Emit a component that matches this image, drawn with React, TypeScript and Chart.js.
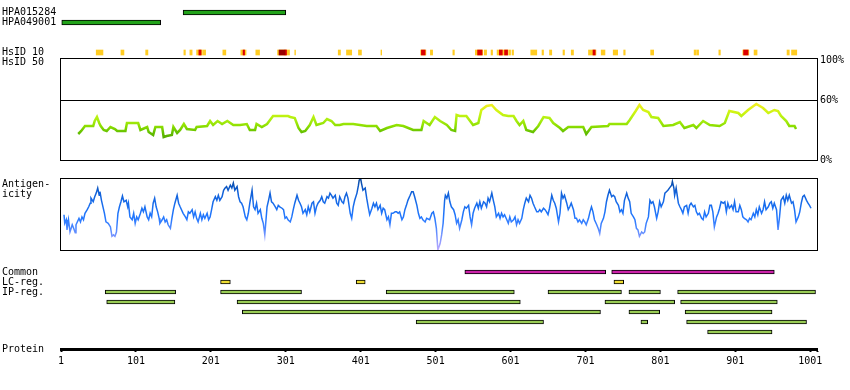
import React, { useEffect, useRef } from 'react';
import { Chart, registerables } from 'chart.js';

Chart.register(...registerables);

const FONT_FAMILY = 'DejaVu Sans Mono';

// residue axis
const RES_MIN = 1;
const RES_MAX = 1010;
const RES_TICKS = [1, 101, 201, 301, 401, 501, 601, 701, 801, 901, 1001, 1010];

// top tracks
const TOP_ROW_VALUES = [0, 1, 4, 5];
const TOP_ROW_LABELS = ['HPA015284', 'HPA049001', 'HsID 10', 'HsID 50'];
const HPA015284 = [[164, 301]];
const HPA049001 = [[2, 134]];
const HSID_YELLOW = [[48, 57], [81, 85], [114, 117], [165, 167], [173, 176], [182, 189], [190, 194], [217, 221], [241, 248], [261, 266], [290, 306], [313, 314], [371, 374], [382, 389], [398, 402], [428, 429], [481, 488], [494, 497], [524, 526], [554, 564], [566, 569], [575, 577], [583, 598], [599, 601], [603, 605], [628, 636], [643, 645], [653, 656], [671, 673], [682, 685], [705, 715], [722, 727], [738, 744], [752, 754], [788, 792], [846, 849], [850, 852], [879, 881], [911, 919], [926, 930], [970, 973], [976, 983]];
const HSID_RED = [[185, 188], [244, 246], [300, 302], [482, 487], [557, 563], [586, 590], [593, 597], [711, 714], [912, 918]];
const HSID_DARKRED = [[292, 300]];

// identity (HsID 50) percent
const IDENTITY_TICKS = [0, 60, 100];
const IDENTITY = [[24, 26], [28, 29], [33, 34], [44, 34], [46, 39], [49, 43], [52, 37], [54, 34], [58, 30], [62, 29], [67, 33], [73, 31], [76, 29], [87, 29], [89, 37], [104, 37], [107, 30], [116, 33], [118, 28], [124, 25], [127, 33], [136, 33], [138, 23], [142, 24], [149, 25], [151, 33], [156, 27], [160, 30], [165, 36], [169, 31], [180, 30], [182, 33], [196, 34], [200, 39], [204, 35], [210, 39], [216, 36], [223, 39], [231, 35], [240, 35], [249, 36], [253, 30], [260, 30], [262, 36], [269, 33], [276, 36], [284, 44], [304, 44], [307, 43], [313, 42], [318, 32], [322, 28], [327, 29], [333, 35], [338, 43], [342, 35], [351, 37], [356, 41], [362, 39], [367, 35], [373, 35], [378, 36], [391, 36], [409, 34], [422, 34], [427, 29], [436, 32], [449, 35], [458, 34], [471, 30], [482, 30], [485, 39], [493, 35], [500, 43], [507, 39], [516, 35], [522, 30], [527, 29], [529, 45], [533, 44], [542, 44], [551, 35], [558, 37], [562, 50], [569, 54], [576, 55], [582, 50], [591, 45], [598, 44], [605, 44], [609, 39], [613, 35], [618, 39], [622, 30], [631, 28], [638, 34], [645, 43], [653, 42], [658, 37], [667, 32], [671, 29], [678, 33], [698, 33], [702, 26], [709, 33], [731, 34], [733, 36], [756, 36], [760, 40], [768, 49], [773, 55], [778, 50], [785, 48], [789, 43], [798, 42], [805, 34], [818, 35], [827, 38], [833, 32], [845, 35], [849, 32], [858, 39], [867, 35], [880, 34], [887, 37], [893, 49], [905, 47], [909, 44], [918, 50], [929, 56], [938, 52], [945, 47], [953, 50], [958, 49], [962, 44], [969, 39], [973, 34], [980, 34], [982, 31]];

// antigenicity (relative scale 0..100)
const ANTIGEN_LABEL = ['Antigen-', 'icity'];
const ANTIGENICITY = [[5, 49], [6, 37], [8, 42], [9, 28], [11, 42], [13, 25], [16, 35], [18, 30], [20, 24], [21, 35], [25, 44], [27, 39], [29, 46], [31, 42], [33, 51], [36, 56], [38, 60], [40, 65], [41, 72], [44, 67], [46, 74], [48, 79], [50, 86], [52, 76], [53, 81], [55, 69], [57, 60], [59, 51], [61, 39], [64, 37], [67, 32], [69, 19], [71, 21], [73, 19], [75, 25], [77, 51], [79, 60], [81, 67], [83, 75], [85, 67], [88, 69], [90, 60], [91, 65], [93, 46], [96, 42], [98, 51], [100, 37], [102, 46], [104, 42], [107, 51], [109, 58], [111, 53], [113, 60], [116, 46], [118, 42], [120, 51], [122, 46], [124, 65], [126, 72], [128, 60], [130, 53], [132, 44], [133, 37], [136, 42], [138, 46], [140, 39], [142, 42], [144, 35], [147, 30], [149, 44], [151, 56], [153, 65], [156, 76], [158, 65], [160, 60], [164, 51], [167, 46], [169, 42], [171, 53], [173, 51], [176, 56], [178, 46], [180, 53], [182, 44], [184, 39], [187, 51], [189, 42], [191, 49], [193, 44], [196, 51], [198, 42], [200, 46], [202, 56], [204, 67], [207, 74], [209, 69], [211, 76], [213, 69], [216, 74], [218, 83], [220, 86], [222, 88], [224, 83], [227, 90], [229, 86], [231, 93], [233, 83], [236, 88], [238, 74], [240, 67], [242, 65], [244, 60], [247, 46], [249, 42], [251, 51], [253, 65], [256, 83], [258, 60], [260, 56], [262, 65], [264, 51], [267, 56], [269, 44], [271, 37], [273, 21], [276, 60], [278, 69], [280, 79], [282, 67], [284, 65], [287, 60], [289, 56], [291, 62], [293, 60], [296, 58], [298, 56], [300, 44], [302, 46], [304, 42], [307, 39], [309, 46], [311, 56], [313, 65], [316, 76], [318, 69], [320, 65], [322, 60], [324, 51], [327, 56], [329, 49], [331, 60], [333, 53], [336, 65], [338, 67], [340, 51], [342, 60], [344, 65], [347, 69], [349, 74], [351, 67], [353, 65], [356, 74], [358, 72], [360, 79], [362, 76], [364, 72], [367, 76], [369, 65], [371, 62], [373, 74], [376, 67], [378, 65], [380, 74], [382, 79], [384, 72], [387, 51], [389, 44], [391, 60], [393, 69], [396, 79], [398, 90], [399, 97], [401, 99], [402, 93], [404, 83], [407, 86], [409, 72], [411, 60], [413, 49], [416, 58], [418, 65], [420, 60], [422, 65], [424, 56], [427, 62], [429, 51], [431, 58], [433, 56], [436, 42], [438, 46], [440, 35], [442, 51], [444, 51], [447, 53], [449, 53], [451, 51], [453, 53], [456, 42], [458, 46], [460, 56], [462, 62], [464, 69], [467, 76], [469, 81], [471, 81], [473, 74], [476, 62], [478, 51], [480, 44], [482, 46], [484, 42], [487, 39], [489, 44], [493, 42], [496, 51], [498, 53], [500, 44], [502, 30], [504, 0], [507, 9], [509, 21], [511, 37], [513, 69], [514, 76], [516, 72], [518, 79], [520, 67], [522, 60], [525, 56], [527, 49], [529, 37], [531, 42], [533, 30], [536, 42], [538, 53], [540, 60], [542, 58], [545, 62], [547, 46], [549, 35], [551, 51], [553, 58], [556, 65], [558, 58], [560, 67], [562, 58], [565, 67], [567, 65], [569, 60], [571, 72], [573, 67], [576, 79], [578, 69], [580, 60], [582, 46], [585, 51], [587, 44], [589, 51], [591, 46], [593, 49], [596, 42], [598, 37], [600, 46], [602, 39], [605, 42], [607, 46], [609, 35], [611, 42], [613, 37], [616, 44], [618, 56], [620, 65], [622, 72], [625, 67], [627, 76], [629, 72], [631, 65], [633, 60], [636, 53], [638, 53], [640, 56], [642, 53], [645, 58], [647, 56], [649, 53], [651, 49], [653, 58], [656, 76], [658, 69], [660, 65], [662, 58], [665, 39], [667, 51], [669, 79], [671, 72], [673, 76], [676, 65], [678, 56], [680, 60], [682, 65], [685, 56], [687, 44], [689, 44], [691, 39], [693, 42], [696, 37], [698, 42], [700, 39], [702, 35], [705, 44], [707, 53], [709, 60], [711, 53], [713, 42], [716, 35], [718, 30], [720, 23], [722, 37], [725, 44], [727, 53], [729, 67], [731, 76], [733, 83], [736, 74], [738, 76], [740, 74], [742, 67], [745, 62], [747, 53], [749, 56], [751, 51], [753, 69], [756, 79], [758, 72], [760, 67], [762, 51], [765, 46], [767, 42], [769, 30], [771, 28], [773, 19], [776, 25], [778, 23], [780, 25], [782, 37], [785, 46], [787, 69], [789, 65], [791, 67], [793, 60], [796, 44], [798, 53], [800, 67], [802, 60], [805, 67], [807, 79], [809, 81], [811, 83], [813, 86], [816, 90], [817, 95], [819, 86], [820, 76], [822, 86], [825, 65], [827, 60], [829, 56], [831, 51], [833, 60], [836, 62], [838, 51], [840, 62], [842, 65], [845, 60], [847, 62], [849, 53], [851, 49], [853, 51], [856, 44], [858, 42], [860, 53], [862, 46], [865, 51], [867, 62], [869, 62], [871, 53], [873, 32], [876, 46], [878, 51], [880, 58], [882, 67], [885, 65], [887, 67], [889, 53], [891, 65], [893, 58], [896, 62], [898, 56], [900, 67], [902, 53], [905, 53], [907, 62], [909, 56], [911, 46], [913, 44], [916, 42], [918, 39], [920, 44], [922, 42], [925, 51], [927, 46], [929, 56], [931, 49], [933, 60], [936, 51], [938, 56], [940, 67], [942, 56], [945, 60], [947, 65], [949, 67], [951, 58], [953, 65], [956, 56], [958, 28], [960, 46], [962, 69], [965, 74], [967, 65], [969, 76], [971, 69], [973, 76], [976, 65], [978, 67], [980, 56], [982, 39], [985, 46], [987, 53], [989, 65], [991, 74], [993, 76], [996, 69], [998, 65], [1000, 62], [1002, 58]];

// bottom tracks
const BOTTOM_ROW_VALUES = [0, 1, 2];
const BOTTOM_ROW_LABELS = ['Common', 'LC-reg.', 'IP-reg.'];
const AXIS_LABEL = 'Protein';
const COMMON = [[540, 728], [736, 953]];
const LC_REG = [[214, 227], [395, 407], [739, 752]];
const IP_REG = [
  [[60, 154], [214, 322], [435, 606], [651, 749], [759, 801], [824, 1008]],
  [[62, 153], [236, 614], [727, 820], [828, 957]],
  [[243, 721], [759, 800], [834, 950]],
  [[475, 645], [775, 784], [836, 996]],
  [[864, 950]],
];

const IDENTITY_COLORS = [[0, '#449900'], [22, '#55aa00'], [28, '#66c200'], [34, '#8ee000'], [40, '#aaee11'], [47, '#ccf511'], [55, '#eeee22'], [100, '#ffee22']];
const ANTIGEN_COLORS = [[0, '#bbaaff'], [15, '#8899ff'], [30, '#4d88ff'], [45, '#2277ff'], [60, '#1a6ff0'], [80, '#1060d8'], [100, '#08479c']];

const font = { family: FONT_FAMILY, size: 10 };

const segs = (list, row) => list.map(([s, e]) => ({ x: [s, e], y: row }));

const gradient = (stops) => (c) => {
  const chart = c.chart;
  const { chartArea, scales } = chart;
  if (!chartArea) return stops[0][1];
  const y = scales.y;
  const g = chart.ctx.createLinearGradient(0, y.getPixelForValue(0), 0, y.getPixelForValue(100));
  stops.forEach(([v, col]) => g.addColorStop(v / 100, col));
  return g;
};

const framePlugin = {
  id: 'frame',
  afterDatasetsDraw(chart) {
    const { ctx, chartArea } = chart;
    const { left, top, right, bottom } = chartArea;
    ctx.save();
    ctx.strokeStyle = '#000';
    ctx.lineWidth = 1;
    ctx.strokeRect(left - 0.5, top + 0.5, right - left + 1, bottom - top);
    ctx.restore();
  },
};

const antigenLabelPlugin = {
  id: 'antigenLabel',
  afterDraw(chart) {
    const { ctx, chartArea } = chart;
    ctx.save();
    ctx.font = `10px ${FONT_FAMILY}`;
    ctx.fillStyle = '#000';
    ctx.textBaseline = 'middle';
    ctx.textAlign = 'left';
    ANTIGEN_LABEL.forEach((t, i) => ctx.fillText(t, 2, chartArea.top + 6 + i * 10));
    ctx.restore();
  },
};

const baseOptions = (padding) => ({
  responsive: false,
  animation: false,
  events: [],
  layout: { padding },
  plugins: { legend: { display: false }, tooltip: { enabled: false } },
});

const hiddenX = { type: 'linear', min: RES_MIN, max: RES_MAX, display: false, offset: false };

const rowAxis = (values, labels, min, max) => ({
  type: 'linear',
  min,
  max,
  reverse: true,
  offset: false,
  position: 'left',
  grid: { display: false, offset: false },
  border: { display: false },
  afterBuildTicks: (s) => {
    s.ticks = values.map((v) => ({ value: v }));
  },
  afterFit: (s) => {
    s.width = 59;
    s.paddingTop = 0;
    s.paddingBottom = 0;
  },
  ticks: {
    autoSkip: false,
    crossAlign: 'far',
    color: '#000',
    font,
    callback: (v, i) => labels[i],
  },
});

const barStyle = (color, border) => ({
  backgroundColor: color,
  borderColor: '#000',
  borderWidth: border ? 1 : 0,
  borderSkipped: false,
  grouped: false,
});

function topConfig() {
  return {
    type: 'bar',
    data: {
      datasets: [
        { data: segs(HSID_DARKRED, 4), ...barStyle('#990000', false), barThickness: 5 },
        { data: segs(HSID_RED, 4), ...barStyle('#dd0000', false), barThickness: 5 },
        { data: segs(HSID_YELLOW, 4), ...barStyle('#ffcc22', false), barThickness: 5 },
        { data: [...segs(HPA015284, 0), ...segs(HPA049001, 1)], ...barStyle('#22a31a', true), barThickness: 5 },
      ],
    },
    options: {
      ...baseOptions({ left: 2, right: 33, top: 0, bottom: 320 }),
      indexAxis: 'y',
      scales: {
        x: hiddenX,
        y: rowAxis(TOP_ROW_VALUES, TOP_ROW_LABELS, -1.25, 5.75),
      },
    },
  };
}

function identityConfig() {
  return {
    type: 'line',
    data: {
      datasets: [
        {
          data: IDENTITY.map(([x, y]) => ({ x, y })),
          borderColor: gradient(IDENTITY_COLORS),
          borderWidth: 2.5,
          pointRadius: 0,
          tension: 0,
          fill: false,
        },
      ],
    },
    options: {
      ...baseOptions({ left: 61, right: 0, top: 58, bottom: 230 }),
      scales: {
        x: hiddenX,
        y: {
          type: 'linear',
          min: 0,
          max: 102,
          position: 'right',
          border: { display: false },
          grid: {
            drawTicks: false,
            color: (c) => (c.tick && c.tick.value === 60 ? '#000' : 'rgba(0,0,0,0)'),
            lineWidth: 1,
          },
          afterBuildTicks: (s) => {
            s.ticks = IDENTITY_TICKS.map((v) => ({ value: v }));
          },
          afterFit: (s) => {
            s.width = 33;
            s.paddingTop = 0;
            s.paddingBottom = 0;
          },
          ticks: {
            autoSkip: false,
            padding: 3,
            color: '#000',
            font,
            callback: (v) => `${v}%`,
          },
        },
      },
    },
    plugins: [framePlugin],
  };
}

function antigenConfig() {
  return {
    type: 'line',
    data: {
      datasets: [
        {
          data: ANTIGENICITY.map(([x, y]) => ({ x, y })),
          borderColor: gradient(ANTIGEN_COLORS),
          borderWidth: 1.5,
          pointRadius: 0,
          tension: 0,
          fill: false,
        },
      ],
    },
    options: {
      ...baseOptions({ left: 61, right: 33, top: 178, bottom: 140 }),
      scales: {
        x: hiddenX,
        y: { type: 'linear', min: 0, max: 100, display: false },
      },
    },
    plugins: [framePlugin, antigenLabelPlugin],
  };
}

function bottomConfig() {
  const yMax = 7.7;
  const ipData = IP_REG.flatMap((row, i) => segs(row, 2 + i));
  return {
    type: 'bar',
    data: {
      datasets: [
        { data: segs(COMMON, 0), ...barStyle('#cc22aa', true), barThickness: 4 },
        { data: segs(LC_REG, 1), ...barStyle('#eedd33', true), barThickness: 4 },
        { data: ipData, ...barStyle('#99cc55', true), barThickness: 4 },
      ],
    },
    options: {
      ...baseOptions({ left: 2, right: 33, top: 262, bottom: 0 }),
      indexAxis: 'y',
      scales: {
        x: {
          type: 'linear',
          min: RES_MIN,
          max: RES_MAX,
          offset: false,
          position: 'bottom',
          afterBuildTicks: (s) => {
            s.ticks = RES_TICKS.map((v) => ({ value: v }));
          },
          afterFit: (s) => {
            s.height = 41;
            s.paddingLeft = 0;
            s.paddingRight = 0;
          },
          grid: { drawOnChartArea: false, drawTicks: true, tickLength: 3, tickWidth: 2, tickColor: '#000' },
          border: { display: true, width: 3, color: '#000' },
          ticks: {
            autoSkip: false,
            maxRotation: 0,
            padding: 3,
            color: '#000',
            font,
            callback: (v) => (v === RES_MAX ? '' : String(v)),
          },
        },
        y: rowAxis(
          [...BOTTOM_ROW_VALUES, yMax],
          [...BOTTOM_ROW_LABELS, AXIS_LABEL],
          -1,
          yMax
        ),
      },
    },
  };
}

const canvasStyle: React.CSSProperties = { position: 'absolute', left: 0, top: 0 };

export default function App() {
  const r1 = useRef<HTMLCanvasElement>(null);
  const r2 = useRef<HTMLCanvasElement>(null);
  const r3 = useRef<HTMLCanvasElement>(null);
  const r4 = useRef<HTMLCanvasElement>(null);

  useEffect(() => {
    const charts: Chart[] = [];
    const pairs: [React.RefObject<HTMLCanvasElement>, () => any][] = [
      [r1, topConfig],
      [r2, identityConfig],
      [r3, antigenConfig],
      [r4, bottomConfig],
    ];
    pairs.forEach(([ref, cfg]) => {
      if (ref.current) charts.push(new Chart(ref.current, cfg()));
    });
    return () => charts.forEach((c) => c.destroy());
  }, []);

  return (
    <div style={{ position: 'absolute', left: 0, top: 0, width: 850, height: 390, background: '#fff' }}>
      <canvas ref={r1} width={850} height={390} style={canvasStyle} />
      <canvas ref={r2} width={850} height={390} style={canvasStyle} />
      <canvas ref={r3} width={850} height={390} style={canvasStyle} />
      <canvas ref={r4} width={850} height={390} style={canvasStyle} />
    </div>
  );
}
